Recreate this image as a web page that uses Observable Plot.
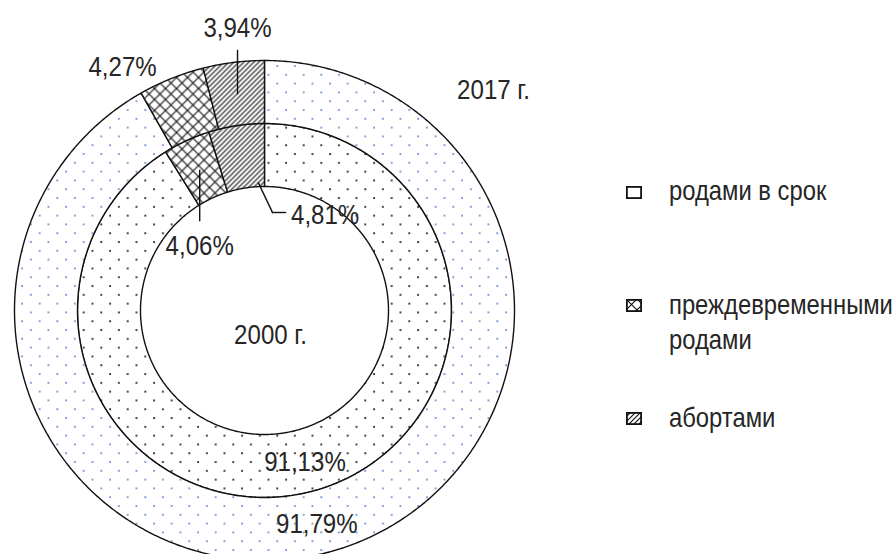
<!DOCTYPE html>
<html><head><meta charset="utf-8">
<script src="https://cdn.jsdelivr.net/npm/d3@7"></script>
<script src="https://cdn.jsdelivr.net/npm/@observablehq/plot@0.6"></script>
<style>
body{margin:0;background:#fff;}
#wrap{position:relative;width:895px;height:554px;overflow:hidden;font-family:"Liberation Sans",Arial,sans-serif;color:#262626;}
.leg{position:absolute;font-size:28px;line-height:35px;white-space:nowrap;}
.leg span{display:inline-block;transform:scaleX(0.85);transform-origin:0 50%;}
.icon{position:absolute;}
</style></head><body><div id="wrap"></div>
<script>
// ---- data ----
const categories = ["родами в срок", "преждевременными родами", "абортами"];
const years = ["2000 г.", "2017 г."];
const share2000 = [91.13, 4.06, 4.81];
const share2017 = [91.79, 4.27, 3.94];

// ---- layout ----
const R = 250;              // px per unit radius
const cx = 264, cy = 310;   // centre in px
const W = 895, H = 554;
const rings = [
  {year: years[0], values: share2000, r0: 0.496, r1: 0.748, dots: "dotsBlack"},
  {year: years[1], values: share2017, r0: 0.748, r1: 1.0, dots: "dotsBlue"}
];
const patternOf = ["", "cross", "hatch"];
const fmt = v => v.toFixed(2).replace(".", ",") + "%";
const rad = d => d * Math.PI / 180;
const pol = (a, r) => ({x: r * Math.sin(rad(a)), y: r * Math.cos(rad(a))});

// slice polygons
const polys = [], slices = [];
rings.forEach((ring, ri) => {
  let acc = 0;
  ring.values.forEach((v, ci) => {
    const a0 = acc * 3.6, a1 = (acc + v) * 3.6; acc += v;
    const id = ri + "-" + ci;
    const fill = "url(#" + (ci === 0 ? ring.dots : patternOf[ci]) + ")";
    const n = Math.max(2, Math.ceil((a1 - a0) / 0.5));
    const pts = [];
    for (let i = 0; i <= n; i++) pts.push(pol(a0 + (a1 - a0) * i / n, ring.r1));
    for (let i = n; i >= 0; i--) pts.push(pol(a0 + (a1 - a0) * i / n, ring.r0));
    pts.push(pts[0]);
    pts.forEach(p => polys.push({...p, id, fill}));
    slices.push({ring: ri, cat: ci, value: v, a0, a1, mid: (a0 + a1) / 2, r0: ring.r0, r1: ring.r1, rm: (ring.r0 + ring.r1) / 2});
  });
});

// label annotations (positions relative to each slice)
const big = slices.filter(d => d.cat === 0).map(d => ({...pol(d.mid + 1, d.rm + 0.005), text: fmt(d.value)}));
const slice = (ri, ci) => slices.find(d => d.ring === ri && d.cat === ci);
const o94 = slice(1, 2), o27 = slice(1, 1), i81 = slice(0, 2), i06 = slice(0, 1);
const p94 = pol(o94.mid, o94.rm);
const p06 = pol(i06.mid, i06.rm);
const p81 = pol(i81.a1 - 2.7, i81.r0 + 0.014);
const centredLabels = [
  {x: p94.x, y: 1.128, text: fmt(o94.value)},
  {...pol(o27.mid - 8.4, 1.126), text: fmt(o27.value)},
  {x: p06.x, y: 0.256, text: fmt(i06.value)}
];
const startLabels = [
  {x: 0.106, y: 0.38, text: fmt(i81.value)}
];
const leaders = [
  {x1: p94.x, y1: p94.y, x2: p94.x, y2: 1.04},
  {x1: p06.x, y1: 0.56, x2: p06.x, y2: 0.36},
  {x1: p81.x, y1: p81.y, x2: 0.032, y2: 0.392},
  {x1: 0.032, y1: 0.392, x2: 0.084, y2: 0.392}
];
const yearLabels = [
  {x: 0.916, y: 0.88, text: years[1]},
  {x: 0.024, y: -0.1, text: years[0]}
];

const font = '"Liberation Sans",Arial,sans-serif';
const FS = 28, INK = "#262626";
const chart = Plot.plot({
  width: W, height: H, margin: 0,
  x: {domain: [-cx / R, (W - cx) / R], range: [0, W], axis: null},
  y: {domain: [-(H - cy) / R, cy / R], range: [H, 0], axis: null},
  color: {type: "identity"},
  style: {background: "white", fontFamily: font},
  marks: [
    Plot.line(polys, {x: "x", y: "y", z: "id", fill: "fill", stroke: "#111", strokeWidth: 1.4, curve: "linear"}),
    Plot.text(big, {x: "x", y: "y", text: "text", fontSize: FS, fill: INK, fontFamily: font}),
    Plot.text(centredLabels, {x: "x", y: "y", text: "text", fontSize: FS, fill: INK, fontFamily: font}),
    Plot.text(startLabels, {x: "x", y: "y", text: "text", textAnchor: "start", fontSize: FS, fill: INK, fontFamily: font}),
    Plot.text(yearLabels, {x: "x", y: "y", text: "text", fontSize: FS, fill: INK, fontFamily: font}),
    Plot.link(leaders, {x1: "x1", y1: "y1", x2: "x2", y2: "y2", stroke: "#111", strokeWidth: 1.4, strokeLinecap: "square"})
  ]
});

// narrow the glyphs (Arial Narrow look)
chart.querySelectorAll("text").forEach(t => {
  const tr = t.getAttribute("transform");
  if (tr) t.setAttribute("transform", tr + " scale(0.86,1)");
  else {
    const x = +t.getAttribute("x") || 0, y = +t.getAttribute("y") || 0;
    t.setAttribute("x", 0); t.setAttribute("y", 0);
    t.setAttribute("transform", `translate(${x},${y}) scale(0.86,1)`);
  }
});

// patterns
const defs = d3.select(chart).insert("defs", ":first-child");
function dotPat(id, col, r) {
  const p = defs.append("pattern").attr("id", id).attr("patternUnits", "userSpaceOnUse").attr("width", 17.6).attr("height", 17.6);
  p.append("rect").attr("width", 17.6).attr("height", 17.6).attr("fill", "white");
  p.append("circle").attr("cx", 4).attr("cy", 4).attr("r", r).attr("fill", col);
  p.append("circle").attr("cx", 12.8).attr("cy", 12.8).attr("r", r).attr("fill", col);
}
dotPat("dotsBlue", "#5a8ad0", 1.0);
dotPat("dotsBlack", "#222", 1.05);
{
  const p = defs.append("pattern").attr("id", "hatch").attr("patternUnits", "userSpaceOnUse").attr("width", 5).attr("height", 5);
  p.append("rect").attr("width", 5).attr("height", 5).attr("fill", "white");
  p.append("path").attr("d", "M-1,1 L1,-1 M0,5 L5,0 M4,6 L6,4").attr("stroke", "#111").attr("stroke-width", 1.15);
}
{
  const p = defs.append("pattern").attr("id", "cross").attr("patternUnits", "userSpaceOnUse").attr("width", 11).attr("height", 11);
  p.append("rect").attr("width", 11).attr("height", 11).attr("fill", "white");
  p.append("path").attr("d", "M0,0 L11,11 M0,11 L11,0").attr("stroke", "#111").attr("stroke-width", 1.15);
}

const wrap = document.getElementById("wrap");
wrap.appendChild(chart);

// legend
const legendRows = [
  {cat: 0, top: 173, iconTop: 185, fill: "white"},
  {cat: 1, top: 287, iconTop: 298, fill: "url(#cross)"},
  {cat: 2, top: 400, iconTop: 411, fill: "url(#hatch)"}
];
legendRows.forEach(r => {
  const icon = document.createElement("div");
  icon.className = "icon";
  icon.style.left = "626px"; icon.style.top = r.iconTop + "px";
  icon.innerHTML = `<svg width="16" height="13"><rect x="0.9" y="0.9" width="14.2" height="11.2" fill="${r.fill}" stroke="#111" stroke-width="1.8"/></svg>`;
  wrap.appendChild(icon);
  const div = document.createElement("div");
  div.className = "leg";
  div.style.left = "669px"; div.style.top = r.top + "px";
  const words = categories[r.cat].split(" ");
  const html = r.cat === 1 ? `<span>${words[0]}</span><br><span>${words[1]}</span>` : `<span>${categories[r.cat]}</span>`;
  div.innerHTML = html;
  wrap.appendChild(div);
});
</script></body></html>
